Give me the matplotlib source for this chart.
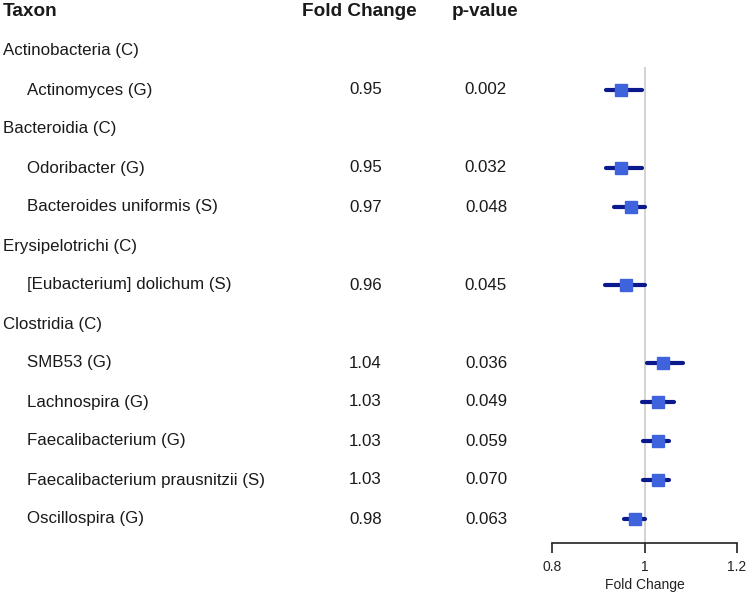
import matplotlib
matplotlib.use("Agg")
import matplotlib.pyplot as plt
from matplotlib.transforms import blended_transform_factory
import numpy as np

plt.rcParams['font.family'] = ['Liberation Sans', 'DejaVu Sans']

labels = ["Actinobacteria (C)", "Actinomyces (G)", "Bacteroidia (C)", "Odoribacter (G)",
          "Bacteroides uniformis (S)", "Erysipelotrichi (C)", "[Eubacterium] dolichum (S)",
          "Clostridia (C)", "SMB53 (G)", "Lachnospira (G)", "Faecalibacterium (G)",
          "Faecalibacterium prausnitzii (S)", "Oscillospira (G)"]
is_group = [True, False, True, False, False, True, False, True, False, False, False, False, False]
fold = [None, 0.95, None, 0.95, 0.97, None, 0.96, None, 1.04, 1.03, 1.03, 1.03, 0.98]
pvals = ["", "0.002", "", "0.032", "0.048", "", "0.045", "", "0.036", "0.049", "0.059", "0.070", "0.063"]
lower = [None, 0.916, None, 0.916, 0.935, None, 0.915, None, 1.006, 0.995, 0.996, 0.996, 0.956]
upper = [None, 0.994, None, 0.994, 1.002, None, 1.002, None, 1.083, 1.063, 1.052, 1.052, 1.001]
headers = ["Taxon", "Fold Change", "p-value"]
xticks = [0.8, 1.0, 1.2]
xticklabels = ["0.8", "1", "1.2"]

W, H = 750, 593
fig = plt.figure(figsize=(W / 100, H / 100), dpi=100)

row_h = 39.0
top_px = 12.0
axis_px = 543.0
y_top = -top_px / row_h
y_bot = (axis_px - top_px) / row_h

x0, x1 = 552.0, 737.0
ax = fig.add_axes([x0 / W, (H - axis_px) / H, (x1 - x0) / W, axis_px / H])
ax.set_xlim(0.8, 1.2)
ax.set_ylim(y_bot, y_top)

# reference line
ax.vlines(1.0, 1.42, y_bot, color="#d3d3d3", lw=1.4, zorder=1)

rows = np.arange(1, len(labels) + 1)
for r, f, lo, hi in zip(rows, fold, lower, upper):
    if f is None:
        continue
    ax.plot([lo, hi], [r, r], color="#0a1a8c", lw=3.0, solid_capstyle="round", zorder=2)
    ax.plot([f], [r], marker="s", ms=8.8, color="#3f63dc", mec="#3f63dc", zorder=3)

for s in ["top", "left", "right"]:
    ax.spines[s].set_visible(False)
ax.spines["bottom"].set_bounds(0.8, 1.2)
ax.spines["bottom"].set_linewidth(1.2)
ax.spines["bottom"].set_color("#222222")
ax.set_yticks([])
ax.set_xticks(xticks)
ax.set_xticklabels(xticklabels, fontsize=10, color="#222222")
ax.tick_params(axis="x", direction="out", length=7, width=1.2, color="#222222", pad=5)
ax.set_xlabel("Fold Change", fontsize=10, labelpad=3, color="#222222")
ax.patch.set_alpha(0)

tr = blended_transform_factory(fig.transFigure, ax.transData)
fs = 12.15
hfs = 13.7
tc = "#1a1a1a"
ax.text(3 / W, 0, headers[0], transform=tr, ha="left", va="center", fontsize=hfs,
        fontweight="bold", color=tc, clip_on=False)
ax.text(302 / W, 0, headers[1], transform=tr, ha="left", va="center", fontsize=hfs,
        fontweight="bold", color=tc, clip_on=False)
ax.text(452 / W, 0, headers[2], transform=tr, ha="left", va="center", fontsize=hfs,
        fontweight="bold", color=tc, clip_on=False)

for r, lab, g, f, p in zip(rows, labels, is_group, fold, pvals):
    xl = 3 if g else 27
    ax.text(xl / W, r, lab, transform=tr, ha="left", va="center", fontsize=fs,
            color=tc, clip_on=False)
    if f is not None:
        ax.text(382 / W, r, f"{f:.2f}", transform=tr, ha="right", va="center",
                fontsize=fs, color=tc, clip_on=False)
        ax.text(507 / W, r, p, transform=tr, ha="right", va="center",
                fontsize=fs, color=tc, clip_on=False)

fig.savefig("out.png", dpi=100)
